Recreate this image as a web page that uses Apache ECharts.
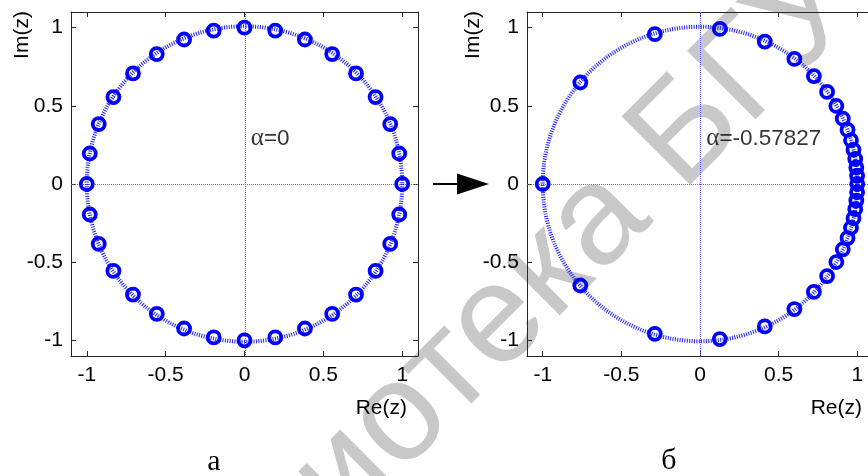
<!DOCTYPE html>
<html>
<head>
<meta charset="utf-8">
<script src="https://cdn.jsdelivr.net/npm/echarts@6/dist/echarts.min.js"></script>
<style>
  html, body { margin: 0; padding: 0; background: #ffffff; }
  #chart { width: 868px; height: 476px; }
</style>
</head>
<body>
<div id="chart"></div>
<script>
// Axis ticks shared by both panels
const tickValues = [-1, -0.5, 0, 0.5, 1];
const axisMin = -1.1;
const axisMax = 1.1;

// Panel а: alpha = 0, 32 points on the unit circle
const alphaA = '0';
const reA = [1, 0.981, 0.924, 0.831, 0.707, 0.556, 0.383, 0.195, 0, -0.195, -0.383, -0.556, -0.707, -0.831, -0.924, -0.981,
             -1, -0.981, -0.924, -0.831, -0.707, -0.556, -0.383, -0.195, 0, 0.195, 0.383, 0.556, 0.707, 0.831, 0.924, 0.981];
const imA = [0, 0.195, 0.383, 0.556, 0.707, 0.831, 0.924, 0.981, 1, 0.981, 0.924, 0.831, 0.707, 0.556, 0.383, 0.195,
             0, -0.195, -0.383, -0.556, -0.707, -0.831, -0.924, -0.981, -1, -0.981, -0.924, -0.831, -0.707, -0.556, -0.383, -0.195];

// Panel б: alpha = -0.57827, the same points after warping
const alphaB = '-0.57827';
const reB = [1, 0.999, 0.994, 0.987, 0.976, 0.960, 0.938, 0.908, 0.867, 0.808, 0.724, 0.600, 0.412, 0.126, -0.287, -0.761,
             -1, -0.761, -0.287, 0.126, 0.412, 0.600, 0.724, 0.808, 0.867, 0.908, 0.938, 0.960, 0.976, 0.987, 0.994, 0.999];
const imB = [0, 0.053, 0.106, 0.161, 0.219, 0.280, 0.346, 0.418, 0.499, 0.589, 0.690, 0.800, 0.911, 0.992, 0.958, 0.649,
             0, -0.649, -0.958, -0.992, -0.911, -0.800, -0.690, -0.589, -0.499, -0.418, -0.346, -0.280, -0.219, -0.161, -0.106, -0.053];

// Unit circle: centre x, centre y, radius
const unitCircle = [[0, 0, 1]];
// Crosshair through the origin
const origin = [[0, 0]];
// Where the alpha annotation sits in each panel
const alphaLabelPos = [[0.04, 0.29]];

const panelLabels = ['а', 'б'];
const xName = 'Re(z)';
const yName = 'Im(z)';
const watermark = 'Библиотека БГУИР';

const SANS = 'Liberation Sans, Arial, sans-serif';
const SERIF = 'Liberation Serif, Times New Roman, serif';
const AXIS_COLOR = '#262626';

function zip(xs, ys) { return xs.map((x, i) => [x, ys[i]]); }

function makeAxis(gridIndex, position, withLabels) {
  return {
    type: 'value',
    gridIndex: gridIndex,
    position: position,
    min: axisMin,
    max: axisMax,
    axisLine: { show: true, onZero: false, lineStyle: { color: AXIS_COLOR, width: 1 } },
    axisTick: { show: true, inside: true, length: 5, customValues: tickValues,
                lineStyle: { color: AXIS_COLOR, width: 1 } },
    axisLabel: { show: withLabels, customValues: tickValues, fontFamily: SANS, fontSize: 21,
                 color: '#000', margin: position === 'left' ? 8 : 9 },
    splitLine: { show: false }
  };
}

function circleSeries(axisIdx) {
  return {
    type: 'custom',
    xAxisIndex: axisIdx,
    yAxisIndex: axisIdx,
    silent: true,
    z: 1,
    data: unitCircle,
    renderItem: function (params, api) {
      const c = api.coord([api.value(0), api.value(1)]);
      const r = api.size([api.value(2), 0])[0];
      return {
        type: 'circle',
        shape: { cx: c[0], cy: c[1], r: r },
        style: { fill: 'none', stroke: '#1c1cff', lineWidth: 4, lineDash: [1, 1.4] }
      };
    }
  };
}

// Thin dotted lines along Re = 0 and Im = 0, spanning the whole plot box
function crossSeries(axisIdx) {
  return {
    type: 'custom',
    xAxisIndex: axisIdx,
    yAxisIndex: axisIdx,
    silent: true,
    z: 1,
    data: origin,
    renderItem: function (params, api) {
      const c = api.coord([api.value(0), api.value(1)]);
      const cs = params.coordSys;
      const style = { stroke: '#5c5cff', lineWidth: 1, lineDash: [1, 1] };
      const vx = Math.round(c[0]) + 0.5;
      const hy = Math.round(c[1]) + 0.5;
      return {
        type: 'group',
        children: [
          { type: 'line', shape: { x1: vx, y1: cs.y, x2: vx, y2: cs.y + cs.height }, style: style },
          { type: 'line', shape: { x1: cs.x, y1: hy, x2: cs.x + cs.width, y2: hy }, style: style }
        ]
      };
    }
  };
}

function pointSeries(axisIdx, re, im) {
  return {
    type: 'scatter',
    xAxisIndex: axisIdx,
    yAxisIndex: axisIdx,
    z: 3,
    symbol: 'circle',
    symbolSize: 12,
    itemStyle: { color: 'rgba(255,255,255,0)', borderColor: '#0000ff', borderWidth: 3.8, opacity: 1 },
    data: zip(re, im)
  };
}

function alphaSeries(axisIdx, alphaText) {
  return {
    type: 'scatter',
    xAxisIndex: axisIdx,
    yAxisIndex: axisIdx,
    symbolSize: 0,
    silent: true,
    z: 4,
    data: alphaLabelPos,
    label: {
      show: true,
      position: 'right',
      distance: 0,
      formatter: '{a|α}{b|=' + alphaText + '}',
      rich: {
        a: { fontFamily: SERIF, fontSize: 25, color: '#000' },
        b: { fontFamily: SANS, fontSize: 22.5, color: '#000' }
      }
    }
  };
}

const chart = echarts.init(document.getElementById('chart'), null, { renderer: 'canvas' });

chart.setOption({
  animation: false,
  backgroundColor: '#ffffff',
  grid: [
    { left: 71, top: 12, width: 347, height: 344, outerBoundsMode: 'none', containLabel: false },
    { left: 527, top: 12, width: 346, height: 344, outerBoundsMode: 'none', containLabel: false }
  ],
  xAxis: [
    makeAxis(0, 'bottom', true), makeAxis(0, 'top', false),
    makeAxis(1, 'bottom', true), makeAxis(1, 'top', false)
  ],
  yAxis: [
    makeAxis(0, 'left', true), makeAxis(0, 'right', false),
    makeAxis(1, 'left', true), makeAxis(1, 'right', false)
  ],
  series: [
    crossSeries(0), circleSeries(0), pointSeries(0, reA, imA), alphaSeries(0, alphaA),
    crossSeries(2), circleSeries(2), pointSeries(2, reB, imB), alphaSeries(2, alphaB)
  ],
  graphic: [
    // faint diagonal library stamp behind the plots
    { type: 'text', x: 530, y: 290, rotation: 45 * Math.PI / 180, z: -10, silent: true,
      style: { text: watermark, font: '141px ' + SANS, fill: '#c8c8c8', align: 'center', verticalAlign: 'middle' } },
    // axis names
    { type: 'text', x: 22, y: 35, rotation: Math.PI / 2,
      style: { text: yName, font: '21px ' + SANS, fill: '#000', align: 'center', verticalAlign: 'middle' } },
    { type: 'text', x: 407, y: 408,
      style: { text: xName, font: '21px ' + SANS, fill: '#000', align: 'right', verticalAlign: 'middle' } },
    { type: 'text', x: 473, y: 35, rotation: Math.PI / 2,
      style: { text: yName, font: '21px ' + SANS, fill: '#000', align: 'center', verticalAlign: 'middle' } },
    { type: 'text', x: 862, y: 408,
      style: { text: xName, font: '21px ' + SANS, fill: '#000', align: 'right', verticalAlign: 'middle' } },
    // panel captions
    { type: 'text', x: 214, y: 462,
      style: { text: panelLabels[0], font: '30px ' + SERIF, fill: '#000', align: 'center', verticalAlign: 'middle' } },
    { type: 'text', x: 669, y: 461,
      style: { text: panelLabels[1], font: '30px ' + SERIF, fill: '#000', align: 'center', verticalAlign: 'middle' } },
    // arrow from panel а to panel б
    { type: 'line', shape: { x1: 433, y1: 184, x2: 459, y2: 184 }, style: { stroke: '#000', lineWidth: 2 } },
    { type: 'polygon', shape: { points: [[457, 173.5], [489, 184], [457, 194.5]] }, style: { fill: '#000' } }
  ]
});
</script>
</body>
</html>
